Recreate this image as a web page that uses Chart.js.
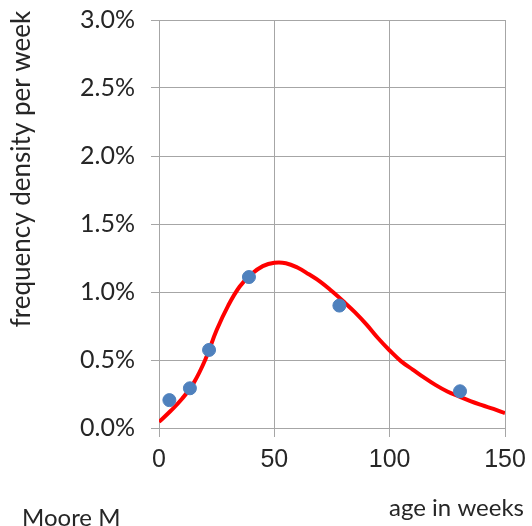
<!DOCTYPE html>
<html>
<head>
<meta charset="utf-8">
<script src="https://cdn.jsdelivr.net/npm/chart.js@4"></script>
<style>
  html, body { margin: 0; padding: 0; background: #fff; }
  #wrap { width: 532px; height: 526px; position: relative; }
</style>
</head>
<body>
<div id="wrap"><canvas id="ageChart" width="532" height="526"></canvas></div>
<script>
// observed frequency density (% per week) by age
const obsAge = [4.5, 13.4, 21.7, 39, 78.2, 130.5];
const obsDensity = [0.205, 0.292, 0.574, 1.11, 0.90, 0.27];

// fitted curve
const fitAge = [0, 5, 10, 15, 20, 25, 30, 35, 40, 45, 50, 55, 60, 65, 70, 75, 80, 85, 90, 95, 100, 105, 110, 115, 120, 125, 130, 135, 140, 145, 150];
const fitDensity = [0.045, 0.125, 0.215, 0.33, 0.50, 0.72, 0.90, 1.04, 1.13, 1.19, 1.215, 1.212, 1.18, 1.13, 1.075, 1.005, 0.93, 0.85, 0.76, 0.66, 0.57, 0.49, 0.43, 0.37, 0.315, 0.268, 0.232, 0.198, 0.168, 0.14, 0.11];

const xTicks = [0, 50, 100, 150];
const yTicks = [0, 0.5, 1.0, 1.5, 2.0, 2.5, 3.0];

const gridGrey = "#a6a6a6";

// free-standing captions around the plot
const captions = {
  id: "captions",
  afterDraw(chart) {
    const ctx = chart.ctx;
    ctx.save();
    ctx.fillStyle = "#262626";
    ctx.textBaseline = "middle";

    ctx.font = "24px Lato";
    ctx.textAlign = "right";
    ctx.fillText("age in weeks", 524, 508);

    ctx.font = "24px Lato";
    ctx.textAlign = "left";
    ctx.fillText("Moore M", 22, 518);

    ctx.font = "26px Lato";
    ctx.translate(22, 169);
    ctx.rotate(-Math.PI / 2);
    ctx.textAlign = "center";
    ctx.fillText("frequency density per week", 0, 0);
    ctx.restore();
  },
};

new Chart(document.getElementById("ageChart").getContext("2d"), {
  type: "scatter",
  data: {
    datasets: [
      {
        label: "observed",
        data: obsAge.map((a, i) => ({ x: a, y: obsDensity[i] })),
        backgroundColor: "#4f81bd",
        borderColor: "#4f81bd",
        pointRadius: 6.5,
        order: 0,
      },
      {
        label: "fit",
        data: fitAge.map((a, i) => ({ x: a, y: fitDensity[i] })),
        showLine: true,
        borderColor: "#ff0000",
        borderWidth: 4,
        pointRadius: 0,
        tension: 0.4,
        order: 1,
      },
    ],
  },
  options: {
    responsive: false,
    animation: false,
    layout: { padding: { top: 20, right: 27, left: 0, bottom: 0 } },
    plugins: { legend: { display: false }, tooltip: { enabled: false } },
    scales: {
      x: {
        type: "linear",
        min: 0,
        max: 150,
        afterBuildTicks: (scale) => { scale.ticks = xTicks.map((v) => ({ value: v })); },
        afterFit: (scale) => {
          scale.height = 98;
          scale.paddingLeft = 0;
          scale.paddingRight = 0;
        },
        grid: { color: gridGrey, tickLength: 9, lineWidth: 1 },
        border: { color: gridGrey },
        ticks: {
          color: "#262626",
          font: { family: "Liberation Sans", size: 25 },
          padding: 8,
          maxRotation: 0,
        },
      },
      y: {
        min: 0,
        max: 3,
        afterBuildTicks: (scale) => { scale.ticks = yTicks.map((v) => ({ value: v })); },
        afterFit: (scale) => {
          scale.width = 159;
          scale.paddingTop = 0;
          scale.paddingBottom = 0;
        },
        grid: { color: gridGrey, tickLength: 8, lineWidth: 1 },
        border: { color: gridGrey },
        ticks: {
          color: "#262626",
          font: { family: "Lato", size: 25 },
          padding: 16,
          callback: (v) => v.toFixed(1) + "%",
        },
      },
    },
  },
  plugins: [captions],
});
</script>
</body>
</html>
